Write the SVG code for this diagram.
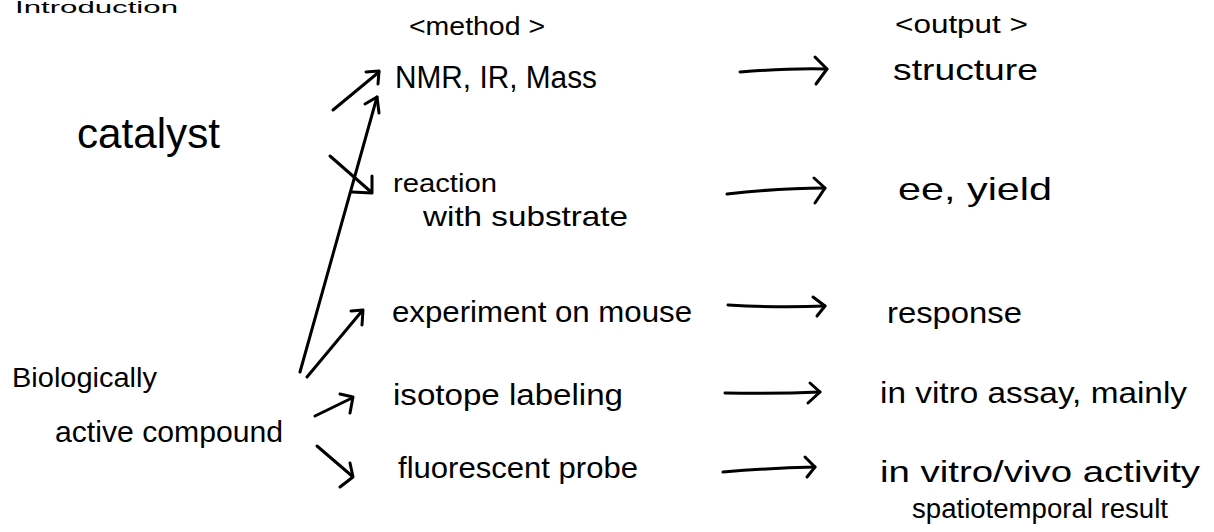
<svg xmlns="http://www.w3.org/2000/svg" width="1214" height="532" viewBox="0 0 1214 532">
<style>
  text { font-family: "Liberation Sans", "DejaVu Sans", sans-serif; fill: #000; }
  .s { fill: none; stroke: #000; stroke-width: 3; stroke-linecap: round; stroke-linejoin: round; }
</style>
<rect width="1214" height="532" fill="#fff"/>
<g id="title"><text x="15" y="13" font-size="16" textLength="163" lengthAdjust="spacingAndGlyphs">Introduction</text></g>
<g id="header-method"><text x="409" y="35" font-size="25" textLength="136" lengthAdjust="spacingAndGlyphs">&lt;method &gt;</text></g>
<g id="header-output"><text x="895" y="33" font-size="26" textLength="133" lengthAdjust="spacingAndGlyphs">&lt;output &gt;</text></g>
<g id="catalyst"><text x="77" y="148" font-size="42" textLength="143" lengthAdjust="spacingAndGlyphs">catalyst</text></g>
<g id="bioactive">
  <text x="12" y="387" font-size="28" textLength="145" lengthAdjust="spacingAndGlyphs">Biologically</text>
  <text x="55" y="442" font-size="29" textLength="228" lengthAdjust="spacingAndGlyphs">active compound</text>
</g>
<g id="m-nmr"><text x="395" y="88" font-size="31" textLength="202" lengthAdjust="spacingAndGlyphs">NMR, IR, Mass</text></g>
<g id="m-reaction">
  <text x="393" y="192" font-size="26" textLength="104" lengthAdjust="spacingAndGlyphs">reaction</text>
  <text x="423" y="226" font-size="28" textLength="205" lengthAdjust="spacingAndGlyphs">with substrate</text>
</g>
<g id="m-mouse"><text x="392" y="322" font-size="29" textLength="300" lengthAdjust="spacingAndGlyphs">experiment on mouse</text></g>
<g id="m-isotope"><text x="393" y="405" font-size="29" textLength="230" lengthAdjust="spacingAndGlyphs">isotope labeling</text></g>
<g id="m-probe"><text x="398" y="478" font-size="29" textLength="240" lengthAdjust="spacingAndGlyphs">fluorescent probe</text></g>
<g id="o-structure"><text x="893" y="80" font-size="30" textLength="145" lengthAdjust="spacingAndGlyphs">structure</text></g>
<g id="o-ee"><text x="898" y="200" font-size="32" textLength="154" lengthAdjust="spacingAndGlyphs">ee, yield</text></g>
<g id="o-response"><text x="887" y="323" font-size="30" textLength="135" lengthAdjust="spacingAndGlyphs">response</text></g>
<g id="o-assay"><text x="880" y="403" font-size="29" textLength="307" lengthAdjust="spacingAndGlyphs">in vitro assay, mainly</text></g>
<g id="o-activity">
  <text x="880" y="482" font-size="29" textLength="320" lengthAdjust="spacingAndGlyphs">in vitro/vivo activity</text>
  <text x="912" y="518" font-size="27" textLength="256" lengthAdjust="spacingAndGlyphs">spatiotemporal result</text>
</g>
<g id="connectors">
  <!-- left fan -->
  <line class="s" x1="333" y1="110" x2="379" y2="72"/>
  <polyline class="s" points="366,72 379,71 378,84"/>
  <line class="s" x1="300" y1="372" x2="377" y2="97"/>
  <polyline class="s" points="365,104 377,97 379,113"/>
  <line class="s" x1="330" y1="156" x2="370" y2="191"/>
  <polyline class="s" points="372,176 372,193 352,192"/>
  <line class="s" x1="307" y1="377" x2="362" y2="311"/>
  <polyline class="s" points="351,311 363,310 362,325"/>
  <line class="s" x1="315" y1="416" x2="352" y2="398"/>
  <polyline class="s" points="340,394 353,397 350,413"/>
  <line class="s" x1="317" y1="446" x2="352" y2="476"/>
  <polyline class="s" points="350,463 353,477 340,487"/>
  <!-- method to output -->
  <path class="s" d="M740,72 Q790,68 827,69"/>
  <polyline class="s" points="815,57 827,69 816,84"/>
  <path class="s" d="M727,194 Q780,188 825,188"/>
  <polyline class="s" points="814,178 825,188 815,203"/>
  <path class="s" d="M728,305 Q780,308 825,306"/>
  <polyline class="s" points="813,297 825,306 817,316"/>
  <path class="s" d="M725,393 Q775,394 820,392"/>
  <polyline class="s" points="810,383 820,392 808,403"/>
  <path class="s" d="M723,472 Q770,468 815,467"/>
  <polyline class="s" points="805,457 815,467 807,477"/>
</g>
</svg>
